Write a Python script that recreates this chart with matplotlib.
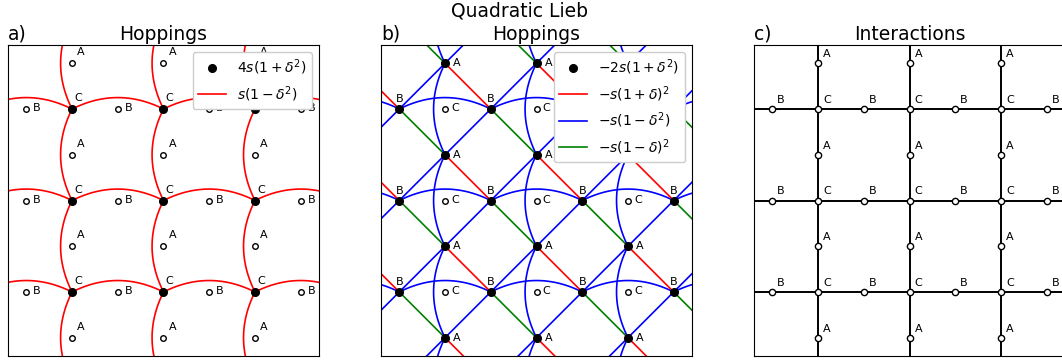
import numpy as np
import matplotlib.pyplot as plt

# lattice: unit cells and the three sites inside each cell
cells = np.arange(-2, 5)
site_A = (0.0, 0.5)
site_B = (0.5, 0.0)
site_C = (0.0, 0.0)
view = (-0.7, 2.7)

labels_a = [r"$4s(1+\delta^2)$", r"$s(1-\delta^2)$"]
labels_b = [r"$-2s(1+\delta^2)$", r"$-s(1+\delta)^2$",
            r"$-s(1-\delta^2)$", r"$-s(1-\delta)^2$"]

W, H = 1062, 360
fig = plt.figure(figsize=(W / 100, H / 100), dpi=100)


def box(left):
    return [left / W, 4 / H, 311 / W, 311 / H]


def pos(site, i, j):
    return (i + site[0], j + site[1])


def arc(ax, p, q, color, rad=-0.25, **kw):
    # quadratic bezier, same convention as arc3 connection style
    (x0, y0), (x1, y1) = p, q
    cx = (x0 + x1) / 2 + rad * (y1 - y0)
    cy = (y0 + y1) / 2 - rad * (x1 - x0)
    t = np.linspace(0, 1, 40)
    x = (1 - t) ** 2 * x0 + 2 * (1 - t) * t * cx + t ** 2 * x1
    y = (1 - t) ** 2 * y0 + 2 * (1 - t) * t * cy + t ** 2 * y1
    return ax.plot(x, y, color=color, lw=1.2, **kw)[0]


def seg(ax, p, q, color, lw=1.2):
    return ax.plot([p[0], q[0]], [p[1], q[1]], color=color, lw=lw)[0]


def sites(ax, site, filled, ms):
    xs = [pos(site, i, j)[0] for i in cells for j in cells]
    ys = [pos(site, i, j)[1] for i in cells for j in cells]
    if filled:
        return ax.plot(xs, ys, 'o', color='k', ms=ms, zorder=5, linestyle='none')[0]
    return ax.plot(xs, ys, 'o', mfc='w', mec='k', mew=1.0, ms=ms, zorder=5, linestyle='none')[0]


def names(ax, site, text, dx, dy, ha='left', va='bottom'):
    for i in cells:
        for j in cells:
            ax.annotate(text, pos(site, i, j), xytext=(dx * 0.72, dy * 0.72),
                        textcoords='offset points', ha=ha, va=va, fontsize=8, zorder=6)


def setup(ax, tag, title):
    ax.set_xlim(view)
    ax.set_ylim(view)
    ax.set_aspect('equal')
    ax.set_xticks([])
    ax.set_yticks([])
    ax.set_title(title, fontsize=13.5, pad=3.6)
    ax.set_title(tag, loc='left', fontsize=13.5, pad=3.6)


ax_a = fig.add_axes(box(8))
ax_b = fig.add_axes(box(381))
ax_c = fig.add_axes(box(754))

# a) hoppings between C sites
for i in cells:
    for j in cells:
        c = pos(site_C, i, j)
        red_a = arc(ax_a, c, pos(site_C, i + 1, j), 'red')
        arc(ax_a, c, pos(site_C, i, j + 1), 'red')
dot_a = sites(ax_a, site_C, True, 5.5)
sites(ax_a, site_A, False, 4)
sites(ax_a, site_B, False, 4)
names(ax_a, site_A, "A", 5, 6)
names(ax_a, site_B, "B", 7, 1, va='center')
names(ax_a, site_C, "C", 2, 6)
setup(ax_a, "a)", "Hoppings")
leg = ax_a.legend([dot_a, red_a], labels_a, loc='upper right', fontsize=10, framealpha=1)
leg.set_zorder(10)

# b) hoppings between A and B sites
for i in cells:
    for j in cells:
        a = pos(site_A, i, j)
        b = pos(site_B, i, j)
        blue_b = arc(ax_b, b, pos(site_B, i + 1, j), 'blue')
        arc(ax_b, a, pos(site_A, i, j + 1), 'blue')
        red_b = seg(ax_b, a, b, 'red')
        green_b = seg(ax_b, b, pos(site_A, i + 1, j - 1), 'green')
        seg(ax_b, pos(site_B, i - 1, j), a, 'blue')
        seg(ax_b, pos(site_A, i, j - 1), b, 'blue')
dot_b = sites(ax_b, site_A, True, 5.5)
sites(ax_b, site_B, True, 5.5)
sites(ax_b, site_C, False, 4)
names(ax_b, site_A, "A", 8, 0, va='center')
names(ax_b, site_B, "B", 0, 5, ha='center')
names(ax_b, site_C, "C", 6, 1, va='center')
setup(ax_b, "b)", "Hoppings")
leg = ax_b.legend([dot_b, red_b, blue_b, green_b], labels_b, loc='upper right',
                  fontsize=10, framealpha=1)
leg.set_zorder(10)

# c) interactions along the square grid
for i in cells:
    for j in cells:
        c = pos(site_C, i, j)
        seg(ax_c, c, pos(site_C, i + 1, j), 'k', lw=1.4)
        seg(ax_c, c, pos(site_C, i, j + 1), 'k', lw=1.4)
for s in (site_A, site_B, site_C):
    sites(ax_c, s, False, 4.5)
names(ax_c, site_A, "A", 5, 4)
names(ax_c, site_B, "B", 5, 4)
names(ax_c, site_C, "C", 5, 4)
setup(ax_c, "c)", "Interactions")

fig.text(519.5 / W, 1 - 16.7 / H, "Quadratic Lieb", ha='center', va='baseline', fontsize=13.5)

fig.savefig("out.png", dpi=100)
